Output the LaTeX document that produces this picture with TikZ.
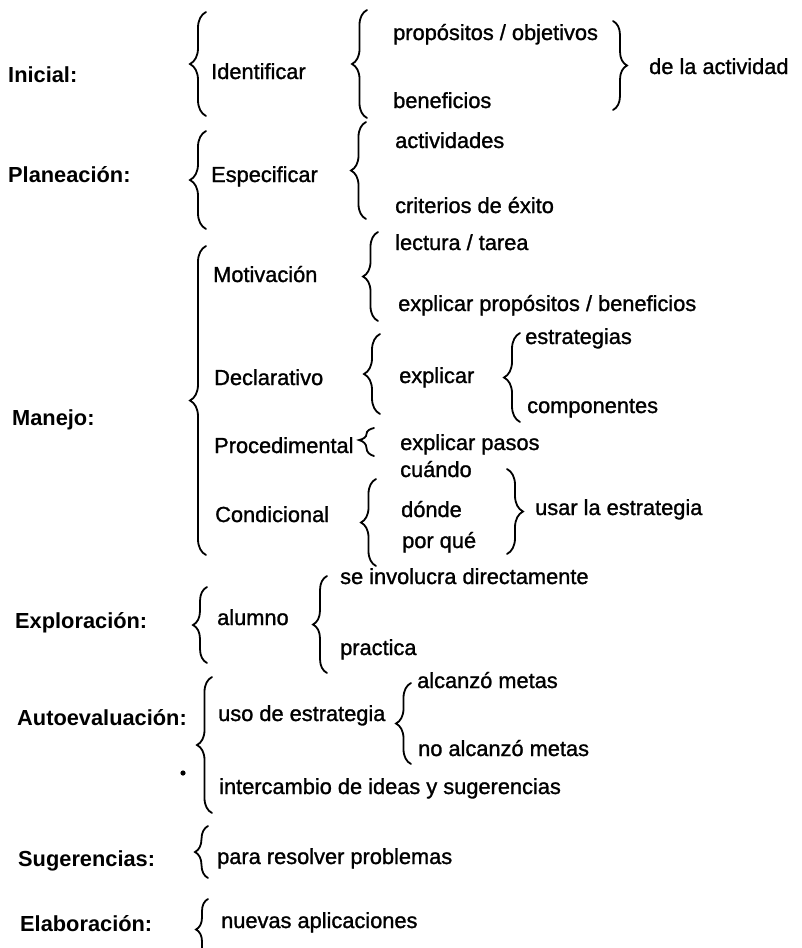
\documentclass[tikz,border=0pt]{standalone}
\usepackage{fontspec}
\setmainfont{Liberation Sans}[UprightFeatures={FakeBold=1.2}]
\usetikzlibrary{decorations.pathreplacing}
\begin{document}
\begin{tikzpicture}[x=1pt,y=-1pt,
  txt/.style={anchor=base west, inner sep=0pt, font=\fontsize{21.8}{26}\selectfont},
  head/.style={anchor=base west, inner sep=0pt, font=\fontsize{21.8}{26}\selectfont\bfseries},
  brc/.style={decorate, decoration={brace, amplitude=#1}, line width=1.8pt, line cap=round},
  brc/.default=15]
\useasboundingbox (0,0) rectangle (802,948);

% stage names
\node[head] (ini)  at (8,82)   {Inicial:};
\node[head] (pla)  at (8,182)  {Planeación:};
\node[head] (man)  at (12,425) {Manejo:};
\node[head] (exp)  at (15,628) {Exploración:};
\node[head] (aut)  at (17,725) {Autoevaluación:};
\node[head] (sug)  at (18,866) {Sugerencias:};
\node[head] (ela)  at (20,931) {Elaboración:};

% first level
\node[txt] (ide)  at (211,79)  {Identificar};
\node[txt] (esp)  at (211,182) {Especificar};
\node[txt] (mot)  at (213,282) {Motivación};
\node[txt] (dec)  at (214,385) {Declarativo};
\node[txt] (pro)  at (214,453) {Procedimental};
\node[txt] (con)  at (215,522) {Condicional};
\node[txt] (alu)  at (217,625) {alumno};
\node[txt] (uso)  at (218,721) {uso de estrategia};
\node[txt] (int)  at (219,794) {intercambio de ideas y sugerencias};
\node[txt] (par)  at (217,864) {para resolver problemas};
\node[txt] (nue)  at (221,928) {nuevas aplicaciones};

% second level
\node[txt] (obj)  at (393,40)  {propósitos / objetivos};
\node[txt] (ben)  at (393,108) {beneficios};
\node[txt] (act)  at (395,148) {actividades};
\node[txt] (cri)  at (395,213) {criterios de éxito};
\node[txt] (lec)  at (395,250) {lectura / tarea};
\node[txt] (epb)  at (398,311) {explicar propósitos / beneficios};
\node[txt] (exq)  at (399,383) {explicar};
\node[txt] (epa)  at (400,450) {explicar pasos};
\node[txt] (cua)  at (400,477) {cuándo};
\node[txt] (don)  at (401,517) {dónde};
\node[txt] (poq)  at (402,548) {por qué};
\node[txt] (inv)  at (340,584) {se involucra directamente};
\node[txt] (pra)  at (340,655) {practica};
\node[txt] (alc)  at (417,688) {alcanzó metas};
\node[txt] (nal)  at (418,756) {no alcanzó metas};

% third level
\node[txt] (dla)  at (649,74)  {de la actividad};
\node[txt] (est)  at (525,344) {estrategias};
\node[txt] (com)  at (527,413) {componentes};
\node[txt] (usa)  at (535,515) {usar la estrategia};

% opening braces (tip to the left)
\draw[brc=16] (206,116) -- (206,12);
\draw[brc=16] (206,229) -- (206,131);
\draw[brc=16] (206,555) -- (206,246);
\draw[brc=14] (207,663) -- (207,587);
\draw[brc=15] (212,813) -- (212,677);
\draw[brc=13] (208,878) -- (208,826);
\draw[brc=12] (208,960) -- (208,899);

\draw[brc=15] (367,118) -- (367,10);
\draw[brc=15] (366,219) -- (366,122);
\draw[brc=15] (378,321) -- (378,232);
\draw[brc=16] (380,414) -- (380,334);
\draw[brc=15, decoration={aspect=0.57}] (374,456) -- (374,428);
\draw[brc=15] (376,566) -- (376,479);
\draw[brc=14] (327,673) -- (327,576);
\draw[brc=16] (520,422) -- (520,333);
\draw[brc=15] (411,764) -- (411,683);

% closing braces (tip to the right)
\draw[brc=14] (613,21) -- (613,110);
\draw[brc=16] (507,469) -- (507,554);

% stray mark
\fill (183,773) circle (2.6);
\end{tikzpicture}
\end{document}
